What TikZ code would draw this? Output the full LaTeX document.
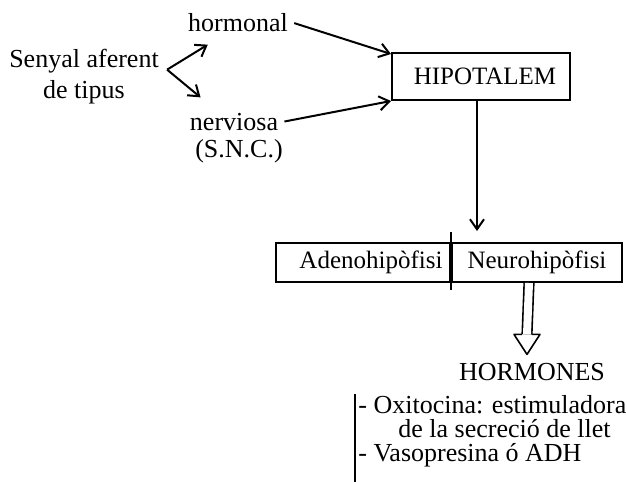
\documentclass[tikz,border=0pt]{standalone}
\usepackage{fontspec}
\setmainfont{Liberation Serif}
\usetikzlibrary{positioning,arrows.meta}
\tikzset{
	lbl/.style={inner sep=3pt, font=\fontsize{13}{15}\selectfont}, % plain text labels
	box/.style={draw, line width=1pt, inner sep=0pt, font=\fontsize{12.5}{15}\selectfont},
	flow/.style={-{Straight Barb[length=5pt,width=7pt]}, line width=1pt},
	item/.style={inner sep=0pt, font=\fontsize{13}{15}\selectfont}
}
\begin{document}
\begin{tikzpicture}[x=0.5pt,y=-0.5pt]
\useasboundingbox (0,0) rectangle (627,482);
% left side: kind of signal
\node[lbl, anchor=base] (senyal) at (84,68) {Senyal aferent};
\node[lbl, below=15pt of senyal.base, anchor=base] (tipus) {de tipus};
\node[lbl, anchor=base] (hormonal) at (238,32) {hormonal};
\node[lbl, anchor=base] (nerv) at (234,130) {nerviosa};
\node[lbl, below=13.5pt of nerv.base, anchor=base, xshift=2.5pt] (snc) {(S.N.C.)};
\coordinate (apex) at ([xshift=1pt,yshift=-4pt]senyal.east);
\draw[flow] (apex) -- ([xshift=13pt,yshift=-3pt]hormonal.south west);
\draw[flow] (apex) -- ([xshift=8.5pt,yshift=4.5pt]nerv.north west);
% hypothalamus
\node[box, minimum width=89pt, minimum height=23.5pt] (hipo) at (481,76.5) {\hspace{4pt}HIPOTALEM};
\draw[flow] (hormonal.east) -- ([yshift=-1pt]hipo.north west);
\draw[flow] (nerv.east) -- (hipo.south west);
% hypophysis
\node[box, minimum width=87pt, minimum height=19.5pt] (adeno) at (363,262.5) {\hspace{8pt}Adenohipòfisi};
\node[box, minimum width=85pt, minimum height=19.5pt, right=0pt of adeno] (neuro) {Neurohipòfisi};
\draw[line width=1pt] ([yshift=5pt]adeno.north east) -- ([yshift=-3.5pt]adeno.south east);
\coordinate (hipoOut) at ([xshift=-2pt]hipo.south);
\draw[flow, shorten >=5.5pt] (hipoOut) -- (hipoOut |- neuro.north);
% hormones
\node[lbl, anchor=base] (hormones) at (532,380) {HORMONES};
\coordinate (tip) at ([xshift=-2.5pt,yshift=1pt]hormones.north);
\coordinate (headbase) at ([yshift=10pt]tip);
\draw[double, double distance=4pt, line width=0.8pt] ([xshift=-4pt]neuro.south) -- (headbase);
\draw[line width=0.8pt, line join=round] ([xshift=-2.4pt]headbase) -- ([xshift=-6.5pt]headbase) -- (tip) -- ([xshift=6.5pt]headbase) -- ([xshift=2.4pt]headbase);
\coordinate (listtop) at (355,394);
\coordinate (listend) at (355,482);
\draw[line width=1.2pt] (listtop) -- (listend);
\node[item, anchor=base west] (oxy) at (358,413) {- Oxitocina: estimuladora};
\node[item, anchor=base east] (llet) at (611,437) {de la secreció de llet};
\node[item, anchor=base west] (vaso) at (358,461) {- Vasopresina ó ADH};
\end{tikzpicture}
\end{document}
